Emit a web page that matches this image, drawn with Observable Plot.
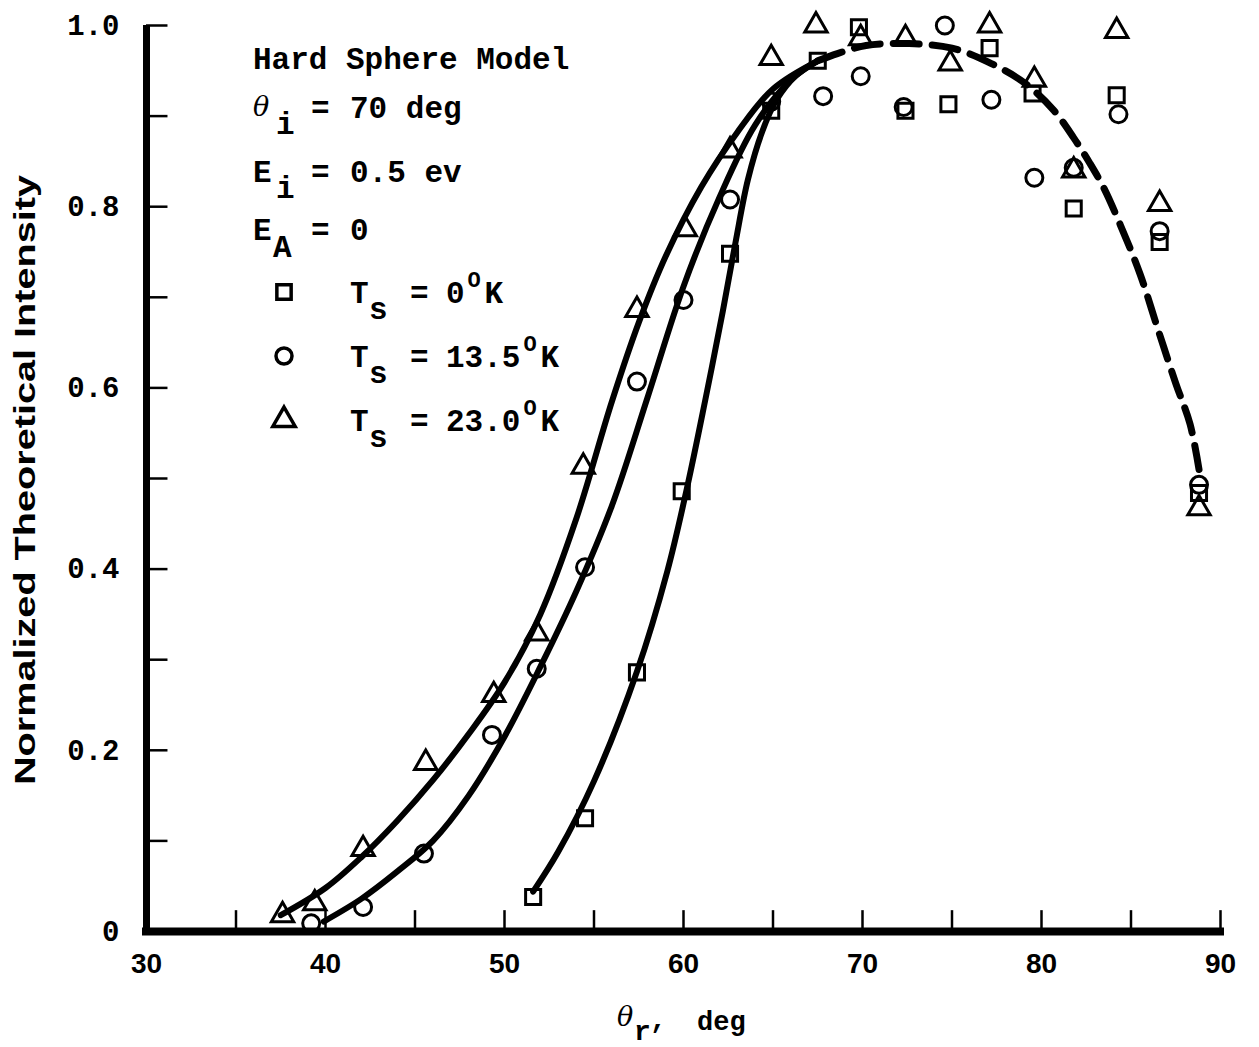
<!DOCTYPE html>
<html><head><meta charset="utf-8">
<script src="https://cdn.jsdelivr.net/npm/d3@7"></script>
<script src="https://cdn.jsdelivr.net/npm/@observablehq/plot@0.6"></script>
<style>html,body{margin:0;padding:0;background:#fff;} svg{display:block}</style>
</head><body><div id="chart"></div>
<script>
// ---- data ----
const thetaSq = [51.6,54.5,57.4,59.9,62.6,64.9,67.5,69.8,72.4,74.8,77.1,79.5,81.8,84.2,86.6,88.8];
const intSq   = [0.038,0.125,0.286,0.486,0.748,0.906,0.961,0.998,0.906,0.913,0.975,0.925,0.798,0.923,0.761,0.484];

const thetaCi = [39.2,42.1,45.5,49.3,51.8,54.5,57.4,60.0,62.6,64.9,67.8,69.9,72.3,74.6,77.2,79.6,81.8,84.3,86.6,88.8];
const intCi   = [0.009,0.027,0.086,0.217,0.29,0.402,0.607,0.697,0.808,0.916,0.922,0.944,0.91,1.0,0.918,0.832,0.843,0.902,0.773,0.493];

const thetaTr = [37.6,39.4,42.1,45.6,49.4,51.8,54.4,57.4,60.1,62.6,64.9,67.4,69.9,72.4,74.9,77.1,79.6,81.8,84.2,86.6,88.8];
const intTr   = [0.018,0.031,0.091,0.186,0.261,0.329,0.513,0.686,0.775,0.862,0.964,1.0,0.986,0.986,0.958,1.0,0.94,0.84,0.994,0.803,0.467];

// faired curves
const curveTrX = [37.5,40,42,44,46,48,50,52,54,56,57.5,59,61,63,65,67.5];
const curveTrY = [0.018,0.048,0.082,0.122,0.167,0.218,0.275,0.350,0.455,0.585,0.672,0.745,0.822,0.882,0.930,0.961];
const curveCiX = [39.9,42,44,46,48,50,52,54,56,58,60,62,64,66,67.5];
const curveCiY = [0.011,0.036,0.066,0.100,0.150,0.215,0.292,0.375,0.470,0.590,0.712,0.810,0.890,0.940,0.961];
const curveSqX = [51.6,53,55,57.4,59.1,60.2,61.2,62.2,62.9,63.6,64.4,65.2,66.3,67.5];
const curveSqY = [0.044,0.088,0.166,0.287,0.398,0.49,0.585,0.685,0.76,0.83,0.883,0.918,0.945,0.961];
const dashX = [67.5,68.6,70.2,72.6,75.0,77.2,79.1,80.7,81.8,82.7,83.5,84.4,85.5,86.5,87.5,88.3,88.8];
const dashY = [0.961,0.969,0.978,0.98,0.975,0.958,0.936,0.906,0.876,0.848,0.82,0.78,0.726,0.665,0.605,0.56,0.51];

// ticks
const xTickLabels = [30,40,50,60,70,80,90];
const xMinorTicks = [35,40,45,50,55,60,65,70,75,80,85,90];
const yTickLabels = [0,0.2,0.4,0.6,0.8,1.0];
const yMinorTicks = [0.1,0.2,0.3,0.4,0.5,0.6,0.7,0.8,0.9,1.0];

const legendRows = ["0", "13.5", "23.0"];

const pts = (xs, ys) => xs.map((x, i) => ({x, y: ys[i]}));
const sq = pts(thetaSq, intSq), ci = pts(thetaCi, intCi), tr = pts(thetaTr, intTr);

const MONO = "'Liberation Mono', 'DejaVu Sans Mono', monospace";
const SANS = "'Liberation Sans', Arial, sans-serif";

const plot = Plot.plot({
  width: 1259, height: 1047,
  marginLeft: 146, marginRight: 39, marginTop: 25, marginBottom: 116,
  x: {domain: [30, 90], axis: null},
  y: {domain: [0, 1], axis: null},
  style: {background: "white", color: "black", overflow: "visible"},
  marks: [
    // axis lines
    Plot.ruleX([30], {y1: 0, y2: 1, stroke: "black", strokeWidth: 7}),
    Plot.ruleY([0], {stroke: "black", strokeWidth: 8, strokeLinecap: "square"}),
    // inner ticks
    Plot.ruleX(xMinorTicks, {y1: 0, y2: 0.023, stroke: "black", strokeWidth: 2.5}),
    Plot.ruleY(yMinorTicks, {x1: 30, x2: 31.2, stroke: "black", strokeWidth: 2.5}),
    // tick labels
    Plot.axisX({ticks: xTickLabels, tickSize: 0, tickPadding: 22, label: null, tickFormat: d => String(d),
      fontFamily: SANS, fontWeight: "bold", fontSize: 28}),
    Plot.axisY({ticks: yTickLabels, tickSize: 0, tickPadding: 27, label: null,
      tickFormat: d => d === 0 ? "0" : d.toFixed(1),
      fontFamily: MONO, fontWeight: "bold", fontSize: 29}),
    // curves
    Plot.line(pts(curveTrX, curveTrY), {x: "x", y: "y", curve: "catmull-rom", stroke: "black", strokeWidth: 6}),
    Plot.line(pts(curveCiX, curveCiY), {x: "x", y: "y", curve: "catmull-rom", stroke: "black", strokeWidth: 6}),
    Plot.line(pts(curveSqX, curveSqY), {x: "x", y: "y", curve: "catmull-rom", stroke: "black", strokeWidth: 6}),
    Plot.line(pts(dashX, dashY), {x: "x", y: "y", curve: "catmull-rom", stroke: "black", strokeWidth: 7,
      strokeDasharray: "26,13"}),
    // data points
    Plot.dot(sq, {x: "x", y: "y", symbol: "square", r: 8.5, stroke: "black", strokeWidth: 3, fill: "none"}),
    Plot.dot(ci, {x: "x", y: "y", symbol: "circle", r: 8.5, stroke: "black", strokeWidth: 3, fill: "none"}),
    Plot.dot(tr, {x: "x", y: "y", symbol: "triangle", r: 8.3, stroke: "black", strokeWidth: 3, fill: "none"})
  ]
});

const svg = d3.select(plot);

function txt(x, y, s, opts = {}) {
  return svg.append("text").attr("x", x).attr("y", y).text(s)
    .attr("font-family", opts.family || MONO)
    .attr("font-weight", opts.weight || "bold")
    .attr("font-size", opts.size || 31)
    .attr("font-style", opts.style || "normal")
    .attr("text-anchor", opts.anchor || "start")
    .attr("fill", "black");
}
const THETA = {family: "'DejaVu Serif', serif", weight: "normal", style: "italic", size: 27};

// legend block
txt(253, 69, "Hard Sphere Model");
txt(253, 116, "\u03B8", THETA); txt(276, 134, "i"); txt(311, 118, "="); txt(350, 118, "70 deg");
txt(253, 182, "E"); txt(276, 198, "i"); txt(311, 182, "="); txt(350, 182, "0.5 ev");
txt(253, 240, "E"); txt(273, 257, "A"); txt(311, 240, "="); txt(350, 240, "0");

const symY = [292, 356, 420];
const symTypes = [d3.symbolSquare, d3.symbolCircle, d3.symbolTriangle];
const symSizes = [Math.PI * 8.5 * 8.5 * 0.9, Math.PI * 8 * 8, Math.PI * 8.3 * 8.3];
legendRows.forEach((val, i) => {
  const y0 = symY[i];
  svg.append("path").attr("d", d3.symbol(symTypes[i], symSizes[i])())
    .attr("transform", `translate(284,${y0})`)
    .attr("fill", "none").attr("stroke", "black").attr("stroke-width", 3.5);
  const b = y0 + 11;
  txt(350, b, "T"); txt(369, b + 16, "s"); txt(410, b, "=");
  txt(446, b, val);
  const xe = 446 + val.length * 18.6;
  txt(xe + 3, b - 16, "O", {size: 22});
  txt(xe + 20, b, "K");
});

// x axis title
txt(617, 1026, "\u03B8", THETA);
txt(634, 1040, "r", {size: 28});
txt(650, 1028, ",", {size: 28});
txt(697, 1030, "deg", {size: 27});

// y axis title
svg.append("text")
  .attr("transform", "translate(35,480) rotate(-90)")
  .attr("text-anchor", "middle")
  .attr("font-family", "'Liberation Sans Narrow', 'Liberation Sans', sans-serif")
  .attr("font-weight", "bold")
  .attr("font-size", 29)
  .attr("textLength", 610)
  .attr("lengthAdjust", "spacingAndGlyphs")
  .text("Normalized Theoretical Intensity");

document.getElementById("chart").appendChild(plot);
</script>
</body></html>
